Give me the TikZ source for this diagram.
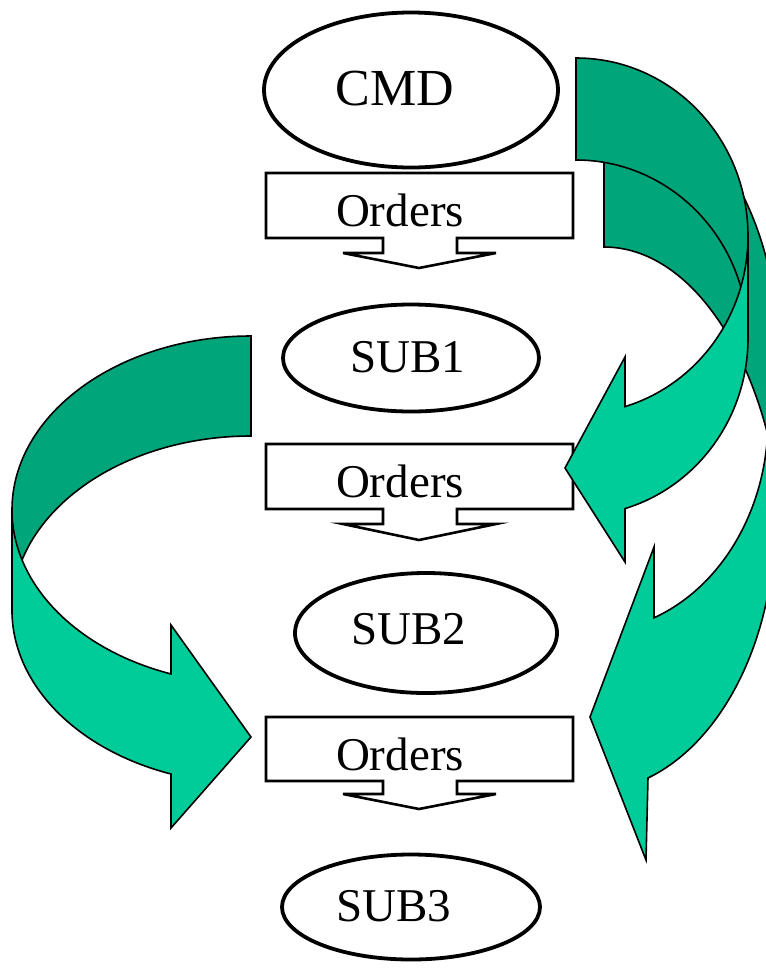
\documentclass[tikz,border=0pt]{standalone}
\usepackage{fontspec}
\setmainfont{Liberation Serif}
\usetikzlibrary{shapes.geometric}
\definecolor{ribbondark}{RGB}{0,165,122}
\definecolor{ribbonlight}{RGB}{0,204,153}
\tikzset{
  oval/.style={ellipse, draw, line width=1.9pt, inner sep=0pt},
  callout/.style={draw, line width=1.3pt, line join=miter},
  lbl/.style={font=\fontsize{23.5}{28}\selectfont, inner sep=0pt, anchor=base},
  backface/.style={fill=ribbondark, draw, line width=0.8pt},
  frontface/.style={fill=ribbonlight, draw, line width=0.8pt}
}
\begin{document}
\begin{tikzpicture}[x=0.5pt, y=-0.5pt]
    \useasboundingbox (0,0) rectangle (766,971);

    % Chain of command
    \node[oval, minimum width=147pt, minimum height=77.5pt] (cmd) at (411,90) {};
    \node[lbl, font=\fontsize{26}{30}\selectfont] (cmdtxt) at (395,105) {CMD};
    \node[oval, minimum width=128pt, minimum height=53.5pt] (subone) at (411,358) {};
    \node[lbl] (subonetxt) at (408,372) {SUB1};
    \node[oval, minimum width=131pt, minimum height=60pt] (subtwo) at (426,633) {};
    \node[lbl] (subtwotxt) at (409,644) {SUB2};
    \node[oval, minimum width=129pt, minimum height=52.5pt] (subthree) at (411,907) {};
    \node[lbl] (subthreetxt) at (394,921) {SUB3};

    % Orders from CMD
    \draw[callout] (266,173) -- (573,173) -- (573,238) -- (457,238) -- (457,253) -- (496,253)
        -- (419,268) -- (343,253) -- (383,253) -- (383,238) -- (266,238) -- cycle;
    \node[lbl] (ordone) at (400,226) {Orders};

    % Orders from SUB1
    \draw[callout] (266,444) -- (573,444) -- (573,509) -- (457,509) -- (457,524) -- (496,524)
        -- (419,540) -- (343,524) -- (383,524) -- (383,509) -- (266,509) -- cycle;
    \node[lbl] (ordtwo) at (400,497) {Orders};

    % Orders from SUB2
    \draw[callout] (266,717) -- (573,717) -- (573,781) -- (457,781) -- (457,794) -- (496,794)
        -- (419,809) -- (343,794) -- (383,794) -- (383,781) -- (266,781) -- cycle;
    \node[lbl] (ordthree) at (400,770) {Orders};

    \begin{scope}
    \clip (0,0) rectangle (766,971);
    % Left ribbon, SUB1 level down to third Orders
    \draw[backface] (251,336) arc[start angle=270, end angle=180, x radius=239, y radius=174]
        -- (12,610) arc[start angle=180, end angle=270, x radius=239, y radius=174] -- cycle;
    \draw[frontface] (12,510) arc[start angle=180, end angle=109.55, x radius=239, y radius=174]
        -- (171,625) -- (251,737) -- (171,828) -- (171,774)
        arc[start angle=109.55, end angle=180, x radius=239, y radius=174] -- cycle;

    % Long right ribbon, down to third Orders
    \draw[backface] (604,90) arc[start angle=270, end angle=360, x radius=175, y radius=269]
        -- (784,568) arc[start angle=0, end angle=-90, x radius=180, y radius=321] -- cycle;
    \draw[frontface] (768,420) arc[start angle=0, end angle=68.93, x radius=178, y radius=212]
        -- (654,547) -- (590,717) -- (646,860) -- (648,778)
        arc[start angle=71.73, end angle=0, x radius=185, y radius=272] -- cycle;

    % Short right ribbon, CMD level down to second Orders
    \draw[backface] (576,58) arc[start angle=270, end angle=360, x radius=172, y radius=178]
        -- (748,338) arc[start angle=0, end angle=-90, x radius=172, y radius=178] -- cycle;
    \draw[frontface] (748,236) arc[start angle=0, end angle=73.45, x radius=172, y radius=178]
        -- (625,357) -- (565,468) -- (625,562) -- (625,508.6)
        arc[start angle=73.45, end angle=0, x radius=172, y radius=178] -- cycle;
    \end{scope}
\end{tikzpicture}
\end{document}
